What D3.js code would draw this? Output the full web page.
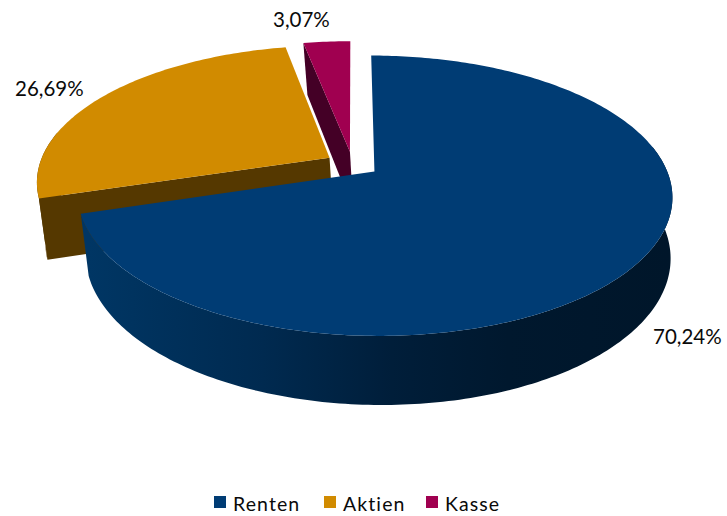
<!DOCTYPE html>
<html>
<head>
<meta charset="utf-8">
<script src="https://cdn.jsdelivr.net/npm/d3@7"></script>
<style>
html, body { margin: 0; padding: 0; background: #fff; }
svg { display: block; }
text { font-family: Lato, sans-serif; fill: #0a0a0a; }
</style>
</head>
<body>
<svg width="727" height="516"></svg>
<script>
var categories = ['Renten', 'Aktien', 'Kasse'];
var values = [70.24, 26.69, 3.07];
var valueLabels = ['70,24%', '26,69%', '3,07%'];

var topColors = ['#003c74', '#d18b00', '#a00050'];
var cutColors = ['#002448', '#553800', '#440026'];

var svg = d3.select('svg');

// perspective camera, fitted by eye to the picture
var cx = 352.5, cy = 164;
var radius = 290, explode = 27, depth = 68, camDist = 1500;
var sinP = 0.46, cosP = Math.sqrt(1 - sinP * sinP);
var hTilt = 0.35, hSkew = 0.05;

function project(x, z, h) {
    var s = camDist / (camDist + z * cosP + h * hTilt);
    return [cx + x * s + h * hSkew, cy - (z * sinP - h * cosP) * s];
}

var pie = d3.pie().sort(null).startAngle(0).endAngle(2 * Math.PI);
var slices = pie(values).map(function(d, i) {
    var mid = (d.startAngle + d.endAngle) / 2;
    d.i = i;
    d.ox = Math.sin(mid) * explode;
    d.oz = Math.cos(mid) * explode;
    return d;
});

function angles(d) {
    var n = Math.max(2, Math.ceil((d.endAngle - d.startAngle) * 60));
    return d3.range(n + 1).map(function(k) {
        return d.startAngle + (d.endAngle - d.startAngle) * k / n;
    });
}

function ring(d, h, list) {
    return (list || angles(d)).map(function(a) {
        return project(d.ox + Math.sin(a) * radius, d.oz + Math.cos(a) * radius, h);
    });
}

function apex(d, h) {
    return project(d.ox, d.oz, h);
}

var line = d3.line();

var defs = svg.append('defs');
var wallStops = [
    [[0, '#003664'], [0.3, '#002a50'], [0.52, '#001e3a'], [0.72, '#00182e'], [1, '#00162a']],
    [[0, '#553800'], [1, '#553800']],
    [[0, '#440026'], [1, '#440026']]
];
slices.forEach(function(d) {
    var xs = ring(d, depth).map(function(p) { return p[0]; });
    var g = defs.append('linearGradient')
        .attr('id', 'wall' + d.i)
        .attr('gradientUnits', 'userSpaceOnUse')
        .attr('x1', d3.min(xs)).attr('x2', d3.max(xs))
        .attr('y1', 0).attr('y2', 0);
    g.selectAll('stop')
        .data(wallStops[d.i])
        .enter()
        .append('stop')
        .attr('offset', function(s) { return s[0]; })
        .attr('stop-color', function(s) { return s[1]; });
});

var pieG = svg.append('g').attr('class', 'pie');

// painter's order: back slices first, the big one last
[2, 1, 0].forEach(function(i) {
    var d = slices[i];
    var top = ring(d, 0);
    var bottom = ring(d, depth);
    var g = pieG.append('g').attr('class', 'slice-' + categories[i]);

    // outer rim, only the part that faces the viewer
    var front = angles(d).filter(function(a) { return Math.cos(a) < 0.2; });
    if (front.length > 1) {
        g.append('path')
            .attr('d', line(ring(d, 0, front).concat(ring(d, depth, front).reverse())) + 'Z')
            .style('fill', 'url(#wall' + i + ')');
    }
    // the cut along the start angle shows on the two small slices only
    if (i > 0) {
        g.append('path')
            .attr('d', line([apex(d, 0), top[0], bottom[0], apex(d, depth)]) + 'Z')
            .style('fill', cutColors[i]);
    }
    // top face
    g.append('path')
        .attr('d', line([apex(d, 0)].concat(top)) + 'Z')
        .style('fill', topColors[i]);
});

// value labels
var labelX = [653, 15, 273];
var labelY = [344, 96, 27];
svg.append('g').selectAll('text')
    .data(valueLabels)
    .enter()
    .append('text')
    .attr('x', function(d, i) { return labelX[i]; })
    .attr('y', function(d, i) { return labelY[i]; })
    .style('font-size', '20.5px')
    .text(function(d) { return d; });

// legend
var legendX = [214, 324, 426];
var legend = svg.append('g').selectAll('g')
    .data(categories)
    .enter()
    .append('g')
    .attr('transform', function(d, i) { return 'translate(' + legendX[i] + ',496)'; });
legend.append('rect')
    .attr('width', 12)
    .attr('height', 12)
    .style('fill', function(d, i) { return topColors[i]; });
legend.append('text')
    .attr('x', 19)
    .attr('y', 15)
    .style('font-size', '19.5px')
    .style('letter-spacing', '1.1px')
    .text(function(d) { return d; });
</script>
</body>
</html>
